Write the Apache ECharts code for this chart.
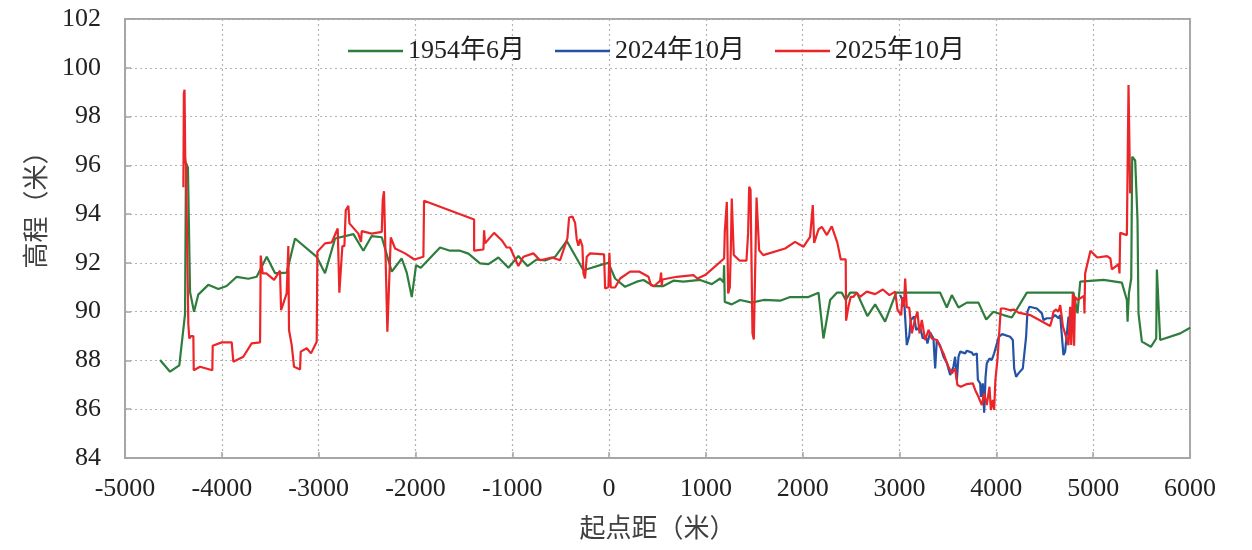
<!DOCTYPE html>
<html>
<head>
<meta charset="utf-8">
<script src="https://cdn.jsdelivr.net/npm/echarts@6/dist/echarts.min.js"></script>
<style>
  html, body { margin: 0; padding: 0; background: #fff; }
  #chart { width: 1252px; height: 550px; }
</style>
</head>
<body>
<div id="chart"></div>
<script>
// Cross-section profile: elevation (m) against distance from the starting point (m)

const seriesNames = ['1954年6月', '2024年10月', '2025年10月'];

// 1954年6月 survey
const x1954 = [-4638, -4535, -4439, -4380, -4370, -4350, -4328, -4287, -4243, -4140, -4036, -3950, -3846, -3726, -3640,
  -3536, -3450, -3398, -3330, -3244, -3020, -2934, -2830, -2641, -2538, -2452, -2348, -2245, -2142, -2090, -2038, -1994,
  -1945, -1746, -1643, -1540, -1453, -1333, -1246, -1143, -1040, -937, -843, -747, -661, -558, -437, -265, -179, -59, -7,
  62, 165, 286, 355, 458, 561, 664, 768, 940, 1061, 1147, 1182, 1188, 1195, 1267, 1353, 1474, 1594, 1767, 1870, 2059,
  2163, 2214, 2283, 2352, 2403, 2445, 2489, 2558, 2668, 2748, 2851, 2965, 3419, 3488, 3540, 3609, 3695, 3815, 3895, 3970,
  4073, 4160, 4315, 4797, 4838, 4866, 5107, 5296, 5348, 5355, 5369, 5393, 5403, 5434, 5458, 5468, 5503, 5596, 5651, 5658,
  5692, 5899, 6002];
const y1954 = [88.02, 87.54, 87.80, 89.90, 96.10, 95.90, 90.80, 90.00, 90.70, 91.10, 90.93, 91.05, 91.43, 91.35, 91.43,
  92.25, 91.58, 91.58, 91.60, 93.00, 92.25, 91.58, 93.00, 93.18, 92.50, 93.10, 93.05, 91.64, 92.18, 91.60, 90.60, 91.90,
  91.80, 92.63, 92.50, 92.50, 92.38, 91.98, 91.95, 92.22, 91.80, 92.28, 91.87, 92.14, 92.10, 92.25, 92.90, 91.70, 91.80, 91.95, 92.00,
  91.36, 91.02, 91.23, 91.30, 91.05, 91.05, 91.27, 91.23, 91.30, 91.13, 91.36, 91.20, 91.90, 90.40, 90.30, 90.48, 90.37, 90.48, 90.45, 90.60, 90.60,
  90.78, 88.90, 90.48, 90.78, 90.78, 90.48, 90.78, 90.78, 89.82, 90.30, 89.59, 90.78, 90.78, 90.17, 90.68, 90.17, 90.37, 90.37, 89.68, 90.00,
  89.86, 89.76, 90.78, 90.78, 89.93, 91.23, 91.30, 91.19, 90.48, 89.59, 90.75, 91.36, 96.35, 96.20, 93.75, 89.93, 88.77, 88.56, 88.90, 91.73,
  88.84, 89.11, 89.34];

// 2024年10月 survey
const x2024 = [3006, 3050, 3075, 3100, 3116, 3150, 3172, 3212, 3240, 3270, 3288, 3315, 3350, 3368, 3385, 3420, 3454, 3488,
  3523, 3557, 3574, 3592, 3609, 3626, 3678, 3695, 3747, 3764, 3798, 3809, 3833, 3840, 3860, 3874, 3888, 3901, 3929, 3953,
  3977, 3992, 4025, 4060, 4142, 4170, 4184, 4204, 4228, 4273, 4307, 4321, 4342, 4418, 4470, 4487, 4521, 4573, 4607, 4642,
  4659, 4676, 4693, 4710, 4745, 4780, 4800];
const y2024 = [90.68, 90.30, 88.63, 89.00, 89.66, 89.80, 89.25, 89.38, 88.90, 89.00, 88.70, 89.15, 88.90, 87.67, 88.85, 88.60, 88.15, 87.90,
  87.40, 87.75, 88.15, 87.20, 88.15, 88.36, 88.29, 88.40, 88.32, 88.22, 88.29, 87.20, 87.06, 86.50, 87.06, 85.86, 87.30, 87.88, 88.08, 88.02,
  88.29, 88.36, 88.97, 89.08, 88.97, 88.84, 87.67, 87.33, 87.47, 87.67, 88.97, 90.00, 90.20, 90.13, 89.93, 89.66, 89.73, 89.73, 89.86, 89.73,
  89.86, 89.86, 88.22, 88.36, 89.79, 89.60, 89.73];

// 2025年10月 survey
const x2025 = [-4397, -4392, -4385, -4378, -4370, -4346, -4336, -4318, -4294, -4290, -4225, -4098, -4094, -4001, -3898,
  -3881, -3778, -3692, -3605, -3598, -3578, -3540, -3460, -3399, -3388, -3330, -3313, -3306, -3278, -3254, -3192, -3185,
  -3123, -3079, -3020, -3013, -2934, -2865, -2803, -2786, -2755, -2734, -2720, -2693, -2682, -2590, -2562, -2555, -2452,
  -2348, -2338, -2325, -2315, -2290, -2255, -2210, -2107, -2011, -1918, -1911, -1394, -1394, -1298, -1291, -1281, -1188,
  -1109, -1057, -1023, -937, -885, -782, -713, -592, -506, -431, -413, -379, -351, -334, -317, -300, -276, -265, -248,
  -231, -196, -52, -41, -7, 3, 17, 62, 114, 217, 314, 407, 432, 466, 527, 537, 544, 551, 699, 871, 912, 992, 1188, 1195,
  1209, 1216, 1223, 1230, 1247, 1257, 1267, 1278, 1288, 1305, 1350, 1419, 1436, 1447, 1461, 1481, 1495, 1523, 1540, 1550,
  1592, 1818, 1921, 2007, 2076, 2104, 2118, 2163, 2197, 2249, 2300, 2358, 2393, 2444, 2448, 2472, 2496, 2524, 2558, 2592,
  2661, 2748, 2827, 2896, 2955, 2979, 3017, 3030, 3045, 3058, 3066, 3075, 3100, 3127, 3160, 3185, 3206, 3230, 3264, 3300,
  3333, 3385, 3454, 3480, 3505, 3540, 3574, 3598, 3633, 3695, 3757, 3781, 3815, 3850, 3874, 3901, 3929, 3943, 3963, 3977,
  3990, 4011, 4046, 4080, 4142, 4184, 4228, 4349, 4556, 4573, 4590, 4618, 4641, 4660, 4677, 4687, 4710, 4745, 4762, 4773,
  4790, 4803, 4813, 4838, 4883, 4905, 4910, 4917, 4972, 5041, 5144, 5178, 5193, 5230, 5262, 5272, 5279, 5348, 5365, 5375, 5382];
const y2025 = [95.10, 98.95, 99.10, 96.35, 96.00, 89.50, 88.90, 89.00, 89.00, 87.60, 87.74, 87.60, 88.60, 88.74, 88.74,
  87.95, 88.15, 88.70, 88.74, 92.30, 91.57, 91.57, 91.30, 91.68, 90.06, 90.75, 92.69, 89.25, 88.63, 87.74, 87.63, 88.36,
  88.50, 88.29, 88.77, 92.46, 92.80, 92.84, 93.41, 90.78, 92.69, 92.69, 94.16, 94.34, 93.62, 93.20, 92.86, 93.30, 93.20,
  93.27, 94.57, 94.94, 94.90, 89.18, 93.04, 92.59, 92.39, 92.14, 92.25, 94.55, 93.78, 92.50, 92.55, 93.34, 92.80, 93.23,
  92.93, 92.63, 92.63, 91.87, 92.25, 92.39, 92.11, 92.22, 92.11, 93.00, 93.86, 93.90, 93.64, 92.96, 92.70, 92.98, 92.69, 91.57, 91.36,
  92.25, 92.39, 92.35, 90.95, 91.00, 92.41, 91.00, 90.99, 91.36, 91.64, 91.64, 91.43, 91.09, 91.05, 91.27, 91.60, 91.05, 91.32, 91.43, 91.50, 91.36, 91.50, 92.18, 93.27,
  93.30, 94.50, 94.50, 90.75, 91.00, 92.52, 94.64, 94.64, 92.32, 92.40, 92.09, 92.09, 93.23, 95.12, 95.00, 89.11, 88.86, 94.68, 94.60, 92.52,
  92.32, 92.59, 92.86, 92.66, 93.07, 94.37, 92.82, 93.37, 93.48, 93.14, 93.50, 92.82, 92.14, 92.14, 89.63, 90.20, 90.61, 90.61, 90.78, 90.61,
  90.82, 90.72, 90.91, 90.68, 90.82, 90.07, 89.86, 90.60, 90.20, 91.36, 91.36, 90.17, 90.17, 89.11, 89.70, 90.00, 89.11, 89.66, 88.84, 89.25,
  88.90, 88.84, 88.29, 88.00, 87.74, 87.47, 87.67, 86.99, 86.92, 87.03, 87.06, 86.79, 86.51, 86.17, 86.65, 86.17, 86.92, 85.97, 86.38, 85.97,
  87.20, 88.02, 90.13, 90.13, 90.06, 90.08, 89.96, 89.86, 89.41, 89.66, 90.00, 90.09, 90.00, 90.27, 90.34, 89.40, 89.10, 88.63, 90.20, 88.63,
  90.75, 88.60, 90.60, 90.48, 90.59, 90.65, 89.93, 91.57, 92.50, 92.22, 92.28, 92.18, 91.73, 91.85, 91.95, 91.57, 93.23, 93.14, 99.29, 99.29, 94.85];

// Axis ranges and tick step
const xMin = -5000, xMax = 6000, xStep = 1000;
const yMin = 84, yMax = 102, yStep = 2;

const colors = ['#2e7d3c', '#2352a6', '#ec2529'];

const zip = (xs, ys) => xs.map((x, i) => [x, ys[i]]);
const profiles = [zip(x1954, y1954), zip(x2024, y2024), zip(x2025, y2025)];

const serif = '"Liberation Serif", "Times New Roman", "Noto Sans CJK SC", serif';
const chart = echarts.init(document.getElementById('chart'), null, { renderer: 'canvas' });

const dotted = { color: '#b3b3b3', width: 1.2, type: [2, 3] };

chart.setOption({
  animation: false,
  grid: {
    left: 125, right: 62, top: 19, bottom: 92,
    show: true, borderColor: '#a6a6a6', borderWidth: 2, backgroundColor: 'transparent'
  },
  legend: {
    top: 33, left: 343,
    icon: 'rect',
    itemWidth: 55, itemHeight: 2.5, itemGap: 30,
    textStyle: { fontFamily: serif, fontSize: 26, color: '#222' },
    data: seriesNames
  },
  xAxis: {
    type: 'value', min: xMin, max: xMax, interval: xStep,
    name: '起点距（米）', nameLocation: 'middle', nameGap: 59,
    nameTextStyle: { fontFamily: serif, fontSize: 26, color: '#404040' },
    axisLine: { show: true, onZero: false, lineStyle: { color: '#a6a6a6', width: 2 } },
    axisTick: { show: true, inside: true, length: 6, lineStyle: { color: '#a6a6a6', width: 1.5 } },
    axisLabel: { fontFamily: serif, fontSize: 26, color: '#222', margin: 18, formatter: v => String(v) },
    splitLine: { show: true, lineStyle: dotted }
  },
  yAxis: {
    type: 'value', min: yMin, max: yMax, interval: yStep,
    name: '高程（米）', nameLocation: 'middle', nameGap: 66,
    nameTextStyle: { fontFamily: serif, fontSize: 26, color: '#404040', padding: [0, 0, 0, 70] },
    axisLine: { show: true, onZero: false, lineStyle: { color: '#a6a6a6', width: 2 } },
    axisTick: { show: true, inside: true, length: 6, lineStyle: { color: '#a6a6a6', width: 1.5 } },
    axisLabel: { fontFamily: serif, fontSize: 26, color: '#222', margin: 24, formatter: v => String(v) },
    splitLine: { show: true, lineStyle: dotted }
  },
  series: seriesNames.map((name, i) => ({
    name,
    type: 'line',
    data: profiles[i],
    symbol: 'none',
    z: 2 + i,
    lineStyle: { color: colors[i], width: 2.2 },
    itemStyle: { color: colors[i] }
  }))
});
</script>
</body>
</html>
